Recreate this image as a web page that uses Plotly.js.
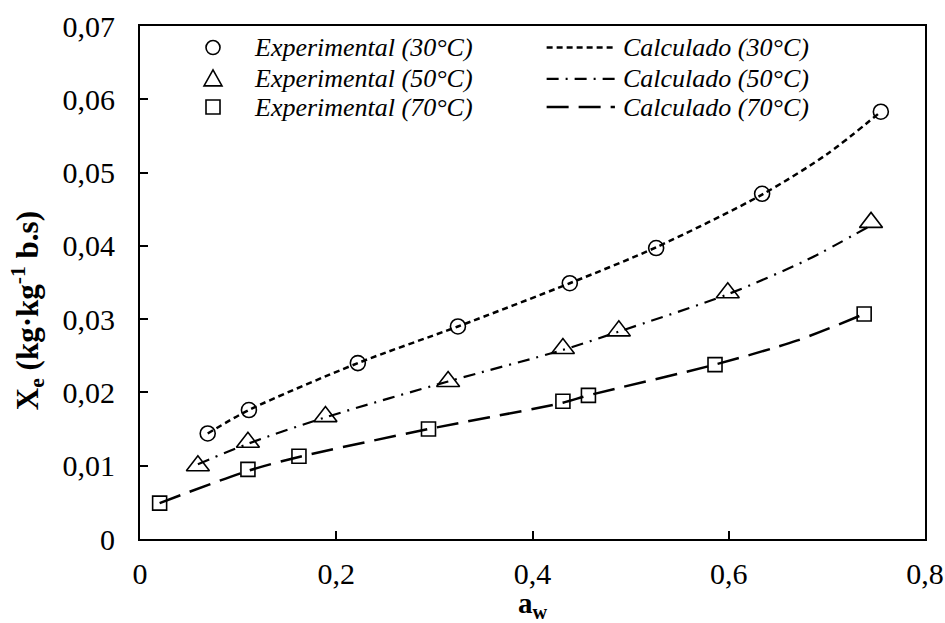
<!DOCTYPE html>
<html>
<head>
<meta charset="utf-8">
<script src="https://cdn.plot.ly/plotly-3.0.1.min.js"></script>
<style>html,body{margin:0;padding:0;background:#fff;}#chart{width:945px;height:623px;}</style>
</head>
<body>
<div id="chart"></div>
<script>
// Experimental data (aw, Xe)
const exp30_aw = [0.069, 0.111, 0.222, 0.324, 0.438, 0.526, 0.634, 0.755];
const exp30_xe = [0.0144, 0.0176, 0.0240, 0.0290, 0.0349, 0.0397, 0.0471, 0.0583];
const exp50_aw = [0.059, 0.110, 0.189, 0.314, 0.431, 0.488, 0.599, 0.745];
const exp50_xe = [0.0100, 0.0132, 0.0167, 0.0215, 0.0260, 0.0284, 0.0336, 0.0432];
const exp70_aw = [0.020, 0.110, 0.162, 0.294, 0.431, 0.457, 0.586, 0.738];
const exp70_xe = [0.0049, 0.0095, 0.0113, 0.0150, 0.0188, 0.0196, 0.0238, 0.0307];

// Calculated curves
const calc30_aw = [0.069, 0.111, 0.222, 0.324, 0.438, 0.526, 0.634, 0.700, 0.755];
const calc30_xe = [0.0144, 0.0176, 0.0240, 0.0290, 0.0349, 0.0398, 0.0470, 0.0525, 0.0583];
const calc50_aw = [0.059, 0.110, 0.189, 0.314, 0.431, 0.488, 0.599, 0.680, 0.745];
const calc50_xe = [0.0102, 0.0130, 0.0166, 0.0215, 0.0258, 0.0283, 0.0334, 0.0381, 0.0428];
const calc70_aw = [0.020, 0.110, 0.162, 0.294, 0.431, 0.457, 0.586, 0.670, 0.738];
const calc70_xe = [0.0049, 0.0093, 0.0112, 0.0150, 0.0186, 0.0196, 0.0238, 0.0271, 0.0307];

const xTicks = [0, 0.2, 0.4, 0.6, 0.8];
const yTicks = [0, 0.01, 0.02, 0.03, 0.04, 0.05, 0.06, 0.07];

const expNames = ['Experimental (30°C)', 'Experimental (50°C)', 'Experimental (70°C)'];
const calcNames = ['Calculado (30°C)', 'Calculado (50°C)', 'Calculado (70°C)'];
const xTitle = '<b>a<sub>w</sub></b>';
const yTitle = '<b>X<sub>e</sub> (kg·kg<sup>-1</sup> b.s)</b>';

const serif = 'Liberation Serif, Times New Roman, serif';
const dash30 = '6px,4px', dash50 = '12px,7px,2px,7px', dash70 = '22px,10px';

function expTrace(x, y, name, symbol, size) {
  return {x: x, y: y, type: 'scatter', mode: 'markers', name: name,
    marker: {symbol: symbol, size: size, color: '#000', line: {color: '#000', width: 1.6}}};
}
function calcTrace(x, y, name, dash, width) {
  return {x: x, y: y, type: 'scatter', mode: 'lines', name: name,
    line: {color: '#000', width: width, dash: dash, shape: 'spline', smoothing: 0.8}};
}

const data = [
  calcTrace(calc30_aw, calc30_xe, calcNames[0], dash30, 2.5),
  calcTrace(calc50_aw, calc50_xe, calcNames[1], dash50, 2.2),
  calcTrace(calc70_aw, calc70_xe, calcNames[2], dash70, 2.5),
  expTrace(exp30_aw, exp30_xe, expNames[0], 'circle-open', 15),
  expTrace(exp50_aw, exp50_xe, expNames[1], 'triangle-up-open', 20),
  expTrace(exp70_aw, exp70_xe, expNames[2], 'square-open', 14)
];

// legend built from shapes + annotations (row positions in plot fraction)
const rowY = [0.958, 0.897, 0.842];
const symX = 0.093, expTextX = 0.143, lineX0 = 0.518, lineX1 = 0.605, calcTextX = 0.613;
const lw = {color: '#000', width: 1.6};
const shapes = [
  {type: 'circle', xref: 'paper', yref: 'paper', xsizemode: 'pixel', ysizemode: 'pixel',
   xanchor: symX, yanchor: rowY[0], x0: -7, x1: 7, y0: -7, y1: 7, line: lw},
  {type: 'path', xref: 'paper', yref: 'paper', xsizemode: 'pixel', ysizemode: 'pixel',
   xanchor: symX, yanchor: rowY[1], path: 'M-9,-7 L9,-7 L0,9 Z', line: lw},
  {type: 'rect', xref: 'paper', yref: 'paper', xsizemode: 'pixel', ysizemode: 'pixel',
   xanchor: symX, yanchor: rowY[2], x0: -7, x1: 7, y0: -7, y1: 7, line: lw},
  {type: 'line', xref: 'paper', yref: 'paper', x0: lineX0, x1: lineX1, y0: rowY[0], y1: rowY[0],
   line: {color: '#000', width: 2.5, dash: dash30}},
  {type: 'line', xref: 'paper', yref: 'paper', x0: lineX0, x1: lineX1, y0: rowY[1], y1: rowY[1],
   line: {color: '#000', width: 2.2, dash: dash50}},
  {type: 'line', xref: 'paper', yref: 'paper', x0: lineX0, x1: lineX1, y0: rowY[2], y1: rowY[2],
   line: {color: '#000', width: 2.5, dash: dash70}}
];
const legFont = {family: serif, size: 26, color: '#000', style: 'italic'};
const annotations = [];
for (let i = 0; i < 3; i++) {
  annotations.push({text: expNames[i], xref: 'paper', yref: 'paper', x: expTextX, y: rowY[i],
    xanchor: 'left', yanchor: 'middle', showarrow: false, font: legFont});
  annotations.push({text: calcNames[i], xref: 'paper', yref: 'paper', x: calcTextX, y: rowY[i],
    xanchor: 'left', yanchor: 'middle', showarrow: false, font: legFont});
}
annotations.push({text: xTitle, xref: 'paper', yref: 'paper', x: 0.5, y: -0.128,
  xanchor: 'center', yanchor: 'middle', showarrow: false, font: {family: serif, size: 29, color: '#000'}});
annotations.push({text: yTitle, xref: 'paper', yref: 'paper', x: -0.1427, y: 0.446, textangle: -90,
  xanchor: 'center', yanchor: 'middle', showarrow: false, font: {family: serif, size: 31, color: '#000'}});

const layout = {
  width: 945, height: 623,
  margin: {l: 140, r: 20, t: 26, b: 84},
  paper_bgcolor: '#fff', plot_bgcolor: '#fff',
  separators: ', ',
  font: {family: serif, color: '#000', size: 28},
  showlegend: false,
  xaxis: {
    range: [0, 0.8], tickvals: xTicks, ticks: 'inside', ticklen: 8, tickwidth: 2, tickcolor: '#000',
    showline: true, linecolor: '#000', linewidth: 2, mirror: true, showgrid: false, zeroline: false,
    tickfont: {family: serif, size: 30, color: '#000'}, ticklabelstandoff: 7
  },
  yaxis: {
    range: [0, 0.07], tickvals: yTicks, ticks: 'inside', ticklen: 8, tickwidth: 2, tickcolor: '#000',
    showline: true, linecolor: '#000', linewidth: 2, mirror: true, showgrid: false, zeroline: false,
    tickfont: {family: serif, size: 30, color: '#000'}, ticklabelstandoff: 17
  },
  shapes: shapes,
  annotations: annotations
};

Plotly.newPlot('chart', data, layout, {displayModeBar: false, staticPlot: true});
</script>
</body>
</html>
